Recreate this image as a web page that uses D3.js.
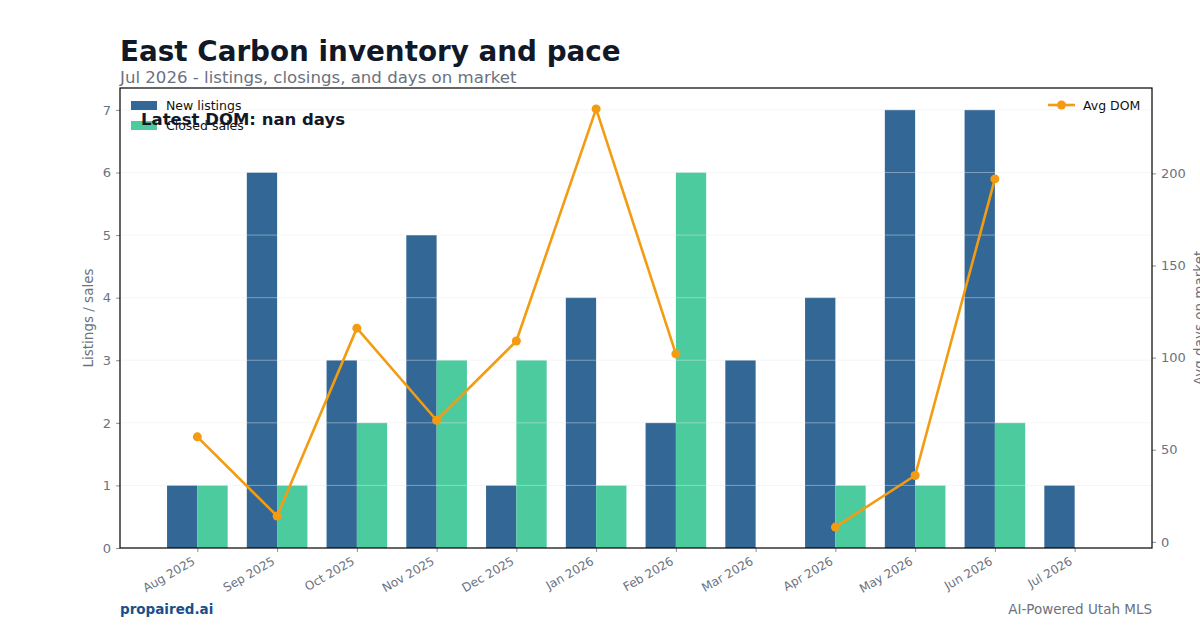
<!DOCTYPE html>
<html>
<head>
<meta charset="utf-8">
<script src="https://cdn.jsdelivr.net/npm/d3@7"></script>
<style>
  body { margin: 0; background: #fff; }
  text { font-family: "DejaVu Sans", sans-serif; }
</style>
</head>
<body>
<script>
// monthly data, Aug 2025 - Jul 2026
var months = ["Aug 2025", "Sep 2025", "Oct 2025", "Nov 2025", "Dec 2025", "Jan 2026",
              "Feb 2026", "Mar 2026", "Apr 2026", "May 2026", "Jun 2026", "Jul 2026"];
var newListings = [1, 6, 3, 5, 1, 4, 2, 3, 4, 7, 7, 1];
var closedSales = [1, 1, 2, 3, 3, 1, 6, 0, 1, 1, 2, 0];
var avgDom = [57, 14, 116, 66, 109, 235, 102, null, 8, 36, 197, null];
var leftTicks = [0, 1, 2, 3, 4, 5, 6, 7];
var rightTicks = [0, 50, 100, 150, 200];

var width = 1200,
    height = 630;
var pLeft = 120, pRight = 1152, pTop = 88, pBottom = 548;

var svg = d3.select("body")
    .append("svg")
    .attr("width", width)
    .attr("height", height);

//scales - index based x so bars can sit either side of the month tick
var x = d3.scaleLinear()
    .domain([-0.97, months.length - 1 + 0.97])
    .range([pLeft, pRight]);
var y = d3.scaleLinear()
    .domain([0, 7.35])
    .range([pBottom, pTop]);
var y2 = d3.scaleLinear()
    .domain([-3.35, 246.35])
    .range([pBottom, pTop]);

var barW = x(0.38) - x(0);

// titles
svg.append("text")
    .attr("x", 120).attr("y", 61)
    .attr("font-size", 27.8).attr("font-weight", "bold")
    .attr("fill", "#111827")
    .text("East Carbon inventory and pace");
svg.append("text")
    .attr("x", 120).attr("y", 83)
    .attr("font-size", 16.6)
    .attr("fill", "#6b7280")
    .text("Jul 2026 - listings, closings, and days on market");

// bars
svg.selectAll(".newl")
    .data(newListings)
    .enter()
    .append("rect")
    .attr("class", "newl")
    .attr("x", function(d, i){ return x(i) - barW; })
    .attr("y", function(d){ return y(d); })
    .attr("width", barW)
    .attr("height", function(d){ return y(0) - y(d); })
    .attr("fill", "#336796");

svg.selectAll(".closed")
    .data(closedSales)
    .enter()
    .append("rect")
    .attr("class", "closed")
    .attr("x", function(d, i){ return x(i); })
    .attr("y", function(d){ return y(d); })
    .attr("width", barW)
    .attr("height", function(d){ return y(0) - y(d); })
    .attr("fill", "#4ccc9e");

// grid over the bars, faint
svg.selectAll(".grid")
    .data(leftTicks.slice(1))
    .enter()
    .append("line")
    .attr("x1", pLeft).attr("x2", pRight)
    .attr("y1", function(d){ return y(d); })
    .attr("y2", function(d){ return y(d); })
    .attr("stroke", "#e5e7eb")
    .attr("stroke-opacity", 0.55)
    .attr("stroke-width", 0.8);

// left axis
var yAxis = d3.axisLeft(y).tickValues(leftTicks).tickSize(4).tickPadding(5);
var gy = svg.append("g").attr("transform", "translate(" + pLeft + ",0)").call(yAxis);
// right axis
var y2Axis = d3.axisRight(y2).tickValues(rightTicks).tickSize(4).tickPadding(5);
var gy2 = svg.append("g").attr("transform", "translate(" + pRight + ",0)").call(y2Axis);
// bottom axis
var xAxis = d3.axisBottom(x)
    .tickValues(d3.range(months.length))
    .tickFormat(function(i){ return months[i]; })
    .tickSize(4).tickPadding(4);
var gx = svg.append("g").attr("transform", "translate(0," + pBottom + ")").call(xAxis);
gx.selectAll("text")
    .attr("x", 0).attr("y", 0)
    .attr("text-anchor", "end")
    .attr("dy", "0.35em")
    .attr("transform", "translate(-4,12) rotate(-30)");

[gy, gy2, gx].forEach(function(g){
    g.select(".domain").remove();
    g.selectAll(".tick line").attr("stroke", "#6b7280").attr("stroke-width", 0.8);
    g.selectAll("text").attr("fill", "#6b7280").attr("font-size", 13)
        .attr("font-family", "DejaVu Sans, sans-serif");
});
gx.selectAll("text").attr("font-size", 12);

// frame
svg.append("rect")
    .attr("x", pLeft).attr("y", pTop)
    .attr("width", pRight - pLeft).attr("height", pBottom - pTop)
    .attr("fill", "none").attr("stroke", "#000").attr("stroke-width", 1.2);

// axis labels
svg.append("text")
    .attr("transform", "translate(93," + ((pTop + pBottom) / 2) + ") rotate(-90)")
    .attr("text-anchor", "middle")
    .attr("font-size", 13.5).attr("fill", "#6b7280")
    .text("Listings / sales");
svg.append("text")
    .attr("transform", "translate(1204," + ((pTop + pBottom) / 2) + ") rotate(-90)")
    .attr("text-anchor", "middle")
    .attr("font-size", 13.5).attr("fill", "#6b7280")
    .text("Avg days on market");

// DOM line, gaps where no closings
var domPts = avgDom.map(function(d, i){ return {i: i, v: d}; });
var line = d3.line()
    .defined(function(d){ return d.v != null; })
    .x(function(d){ return x(d.i); })
    .y(function(d){ return y2(d.v); });
svg.append("path")
    .datum(domPts)
    .attr("d", line)
    .attr("fill", "none")
    .attr("stroke", "#f39c12")
    .attr("stroke-width", 2.6)
    .attr("stroke-linejoin", "round");
svg.selectAll(".dot")
    .data(domPts.filter(function(d){ return d.v != null; }))
    .enter()
    .append("circle")
    .attr("cx", function(d){ return x(d.i); })
    .attr("cy", function(d){ return y2(d.v); })
    .attr("r", 4.5)
    .attr("fill", "#f39c12");

// legends
var leg = [["New listings", "#336796"], ["Closed sales", "#4ccc9e"]];
leg.forEach(function(l, k){
    svg.append("rect")
        .attr("x", 131).attr("y", 101 + k * 20)
        .attr("width", 26).attr("height", 9)
        .attr("fill", l[1]);
    svg.append("text")
        .attr("x", 166).attr("y", 110 + k * 20)
        .attr("font-size", 12.5).attr("fill", "#111")
        .text(l[0]);
});
svg.append("line")
    .attr("x1", 1048).attr("x2", 1075).attr("y1", 105).attr("y2", 105)
    .attr("stroke", "#f39c12").attr("stroke-width", 2.6);
svg.append("circle").attr("cx", 1061.5).attr("cy", 105).attr("r", 4.5).attr("fill", "#f39c12");
svg.append("text")
    .attr("x", 1083).attr("y", 110)
    .attr("font-size", 12.5).attr("fill", "#111")
    .text("Avg DOM");

svg.append("text")
    .attr("x", 141).attr("y", 125)
    .attr("font-size", 16.5).attr("font-weight", "bold")
    .attr("fill", "#111827")
    .text("Latest DOM: nan days");

// footer
svg.append("text")
    .attr("x", 120).attr("y", 614)
    .attr("font-size", 13.5).attr("font-weight", "bold")
    .attr("fill", "#1a4f8a")
    .text("propaired.ai");
svg.append("text")
    .attr("x", 1152).attr("y", 614)
    .attr("text-anchor", "end")
    .attr("font-size", 13.5)
    .attr("fill", "#6b7280")
    .text("AI-Powered Utah MLS");
</script>
</body>
</html>
